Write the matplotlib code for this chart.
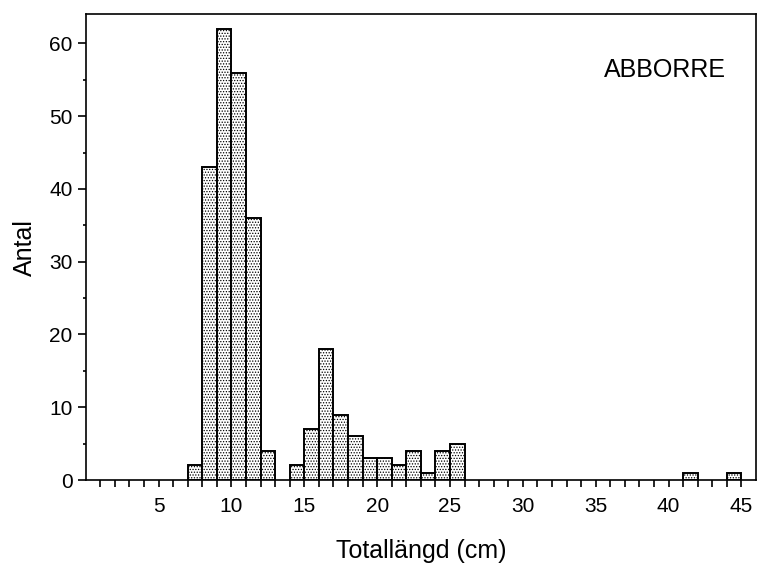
import matplotlib
matplotlib.use("Agg")
import matplotlib.pyplot as plt
from matplotlib.ticker import FixedLocator, MultipleLocator

plt.rcParams["font.family"] = ["Liberation Sans", "DejaVu Sans"]
plt.rcParams["hatch.linewidth"] = 0.6
plt.rcParams["hatch.color"] = "black"

# length classes (lower edge, cm) and number of perch caught per class
bin_start = [7, 8, 9, 10, 11, 12, 14, 15, 16, 17, 18, 19, 20, 21, 22, 23, 24, 25, 41, 44]
counts = [2, 43, 62, 56, 36, 4, 2, 7, 18, 9, 6, 3, 3, 2, 4, 1, 4, 5, 1, 1]

x_ticks = [5, 10, 15, 20, 25, 30, 35, 40, 45]
y_ticks = [0, 10, 20, 30, 40, 50, 60]

fig = plt.figure(figsize=(7.57, 5.63), dpi=100)
ax = fig.add_axes([0.1132, 0.1474, 0.8855, 0.8272])

ax.bar(bin_start, counts, width=1.0, align="edge", facecolor="white",
       edgecolor="black", linewidth=1.4, hatch="......", zorder=2)

ax.set_xlim(0, 46)
ax.set_ylim(0, 64)
ax.set_xticks(x_ticks)
ax.set_yticks(y_ticks)
# 1 cm minor ticks, none on the left spine
ax.xaxis.set_minor_locator(FixedLocator([v for v in range(1, 46) if v % 5]))
ax.yaxis.set_minor_locator(MultipleLocator(5))

ax.tick_params(axis="x", which="both", direction="out", length=5, width=1.2,
               labelsize=15, pad=7.5)
ax.tick_params(axis="y", which="major", direction="out", length=5.5, width=1.2,
               labelsize=15, pad=4)
ax.tick_params(axis="y", which="minor", direction="out", length=2, width=1.2)
for s in ax.spines.values():
    s.set_linewidth(1.2)

ax.set_xlabel("Totallängd (cm)", fontsize=18, labelpad=16)
ax.set_ylabel("Antal", fontsize=18, labelpad=9)
ax.text(0.864, 0.880, "ABBORRE", transform=ax.transAxes, ha="center",
        va="center", fontsize=18)

fig.savefig("out.png", dpi=100)
